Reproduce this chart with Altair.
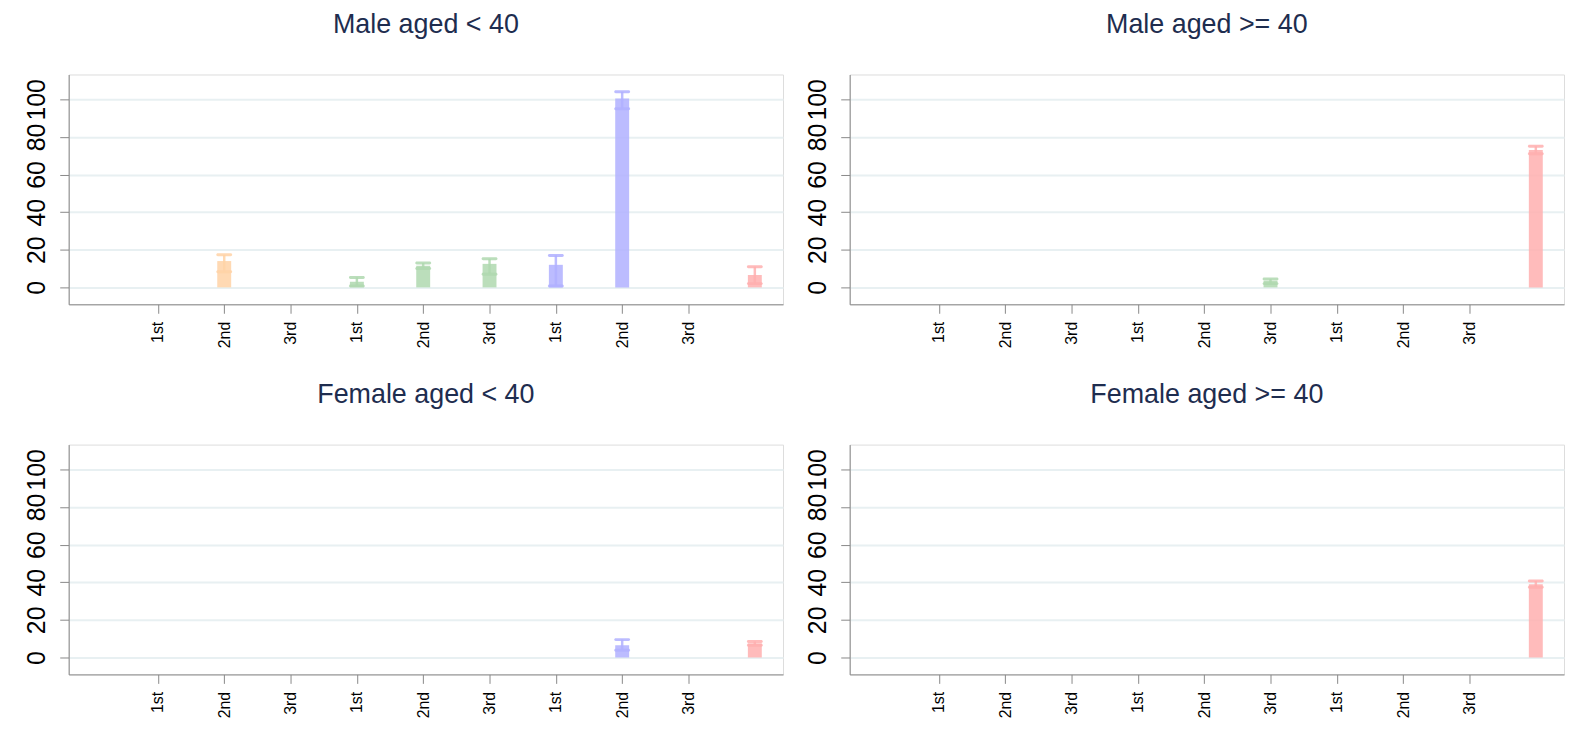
import altair as alt
import pandas as pd

# ---- data ----
panel_titles = ["Male aged < 40", "Male aged >= 40", "Female aged < 40", "Female aged >= 40"]
class_labels = ["1st", "2nd", "3rd", "1st", "2nd", "3rd", "1st", "2nd", "3rd"]
tick_positions = [1, 2, 3, 4, 5, 6, 7, 8, 9]
group_names = ["Group 1", "Group 2", "Group 3", "Group 4"]
group_colors = ["#ffd2a6", "#afd8af", "#b0b0ff", "#ffafaf"]
y_ticks = [0, 20, 40, 60, 80, 100]

bar_panel = [0, 0, 0, 0, 0, 0, 0, 1, 1, 2, 2, 3]
bar_pos = [2, 4, 5, 6, 7, 8, 10, 6, 10, 8, 10, 10]
bar_group = [0, 1, 1, 1, 2, 2, 3, 1, 3, 2, 3, 3]
bar_mean = [14.0, 3.0, 11.5, 12.5, 12.0, 100.5, 6.6, 3.5, 73.0, 6.5, 7.5, 39.0]
bar_lo = [8.3, 0.8, 10.0, 7.0, 0.7, 95.0, 2.0, 2.0, 71.0, 3.8, 6.5, 37.3]
bar_hi = [17.3, 5.3, 13.0, 15.2, 17.0, 104.0, 11.0, 4.5, 75.0, 9.5, 8.5, 40.7]

df = pd.DataFrame({
    "panel": [panel_titles[i] for i in bar_panel],
    "pos": bar_pos,
    "group": [group_names[g] for g in bar_group],
    "mean": bar_mean,
    "lo": bar_lo,
    "hi": bar_hi,
})

label_array = "[" + ",".join("'%s'" % s for s in class_labels) + "]"
label_expr = label_array + "[datum.value - 1]"

FONT = "Liberation Sans"
W, H = 718, 231
OP = 0.85

xscale = alt.Scale(domain=[-0.27, 10.35], nice=False, zero=False)
yscale = alt.Scale(domain=[-9, 113.2], nice=False, zero=False)

xaxis = alt.Axis(values=tick_positions, labelExpr=label_expr, labelAngle=270,
                 labelAlign="right", labelBaseline="middle", labelFontSize=16,
                 labelPadding=8, tickSize=9, grid=False, minExtent=45, maxExtent=45)
yaxis = alt.Axis(values=y_ticks, labelAngle=270, labelAlign="center",
                 labelBaseline="alphabetic", labelFontSize=25, labelPadding=15,
                 tickSize=9, grid=True, gridColor="#e8f0f2", gridWidth=2,
                 minExtent=55, maxExtent=55)


def xenc():
    return alt.X("pos:Q", scale=xscale, axis=xaxis, title=None)


def yenc(field):
    return alt.Y(field + ":Q", scale=yscale, axis=yaxis, title=None)


color = alt.Color("group:N", scale=alt.Scale(domain=group_names, range=group_colors), legend=None)


def panel(i):
    d = df[df["panel"] == panel_titles[i]]
    base = alt.Chart(d)
    bars = base.mark_bar(size=14, opacity=OP).encode(
        x=xenc(), y=yenc("mean"), y2=alt.datum(0), color=color)
    spike = base.mark_rule(strokeWidth=2.5, opacity=OP).encode(
        x=xenc(), y=yenc("lo"), y2="hi:Q", color=color)
    cap_lo = base.mark_tick(orient="horizontal", size=16, thickness=3, opacity=OP,
                            cornerRadius=1.5).encode(x=xenc(), y=yenc("lo"), color=color)
    cap_hi = base.mark_tick(orient="horizontal", size=16, thickness=3, opacity=OP,
                            cornerRadius=1.5).encode(x=xenc(), y=yenc("hi"), color=color)
    return alt.layer(bars, spike, cap_lo, cap_hi).properties(
        width=W, height=H,
        title=alt.TitleParams(panel_titles[i], fontSize=27, font=FONT, fontWeight="normal",
                              color="#1e2d4f", anchor="middle", frame="group", offset=36),
    )


top = alt.hconcat(panel(0), panel(1), spacing=10)
bottom = alt.hconcat(panel(2), panel(3), spacing=10)
chart = alt.vconcat(top, bottom, spacing=30).properties(
    padding={"left": 5, "top": 0, "right": 0, "bottom": 0}
).configure_view(stroke=None).configure_axis(
    domainColor="#000000", domainWidth=1.5, tickColor="#000000", tickWidth=1.5,
    labelColor="#000000", labelFont=FONT,
).configure(background="white")

chart.save("out.html", embed_options={"renderer": "svg", "actions": False})
